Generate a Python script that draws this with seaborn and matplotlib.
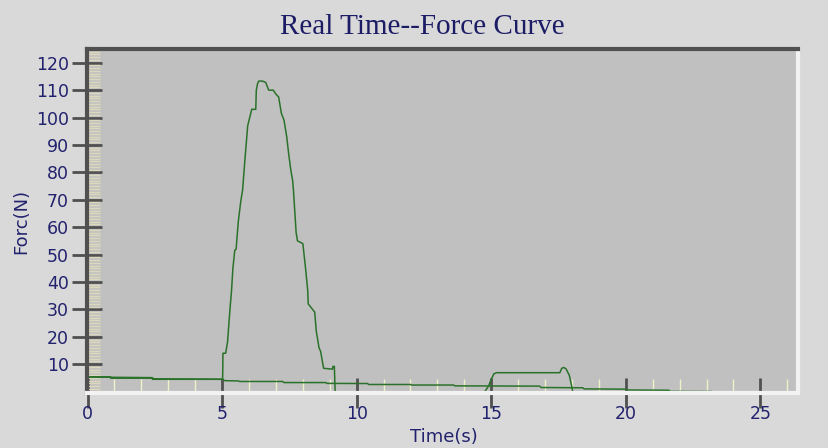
import matplotlib
matplotlib.use("Agg")
import matplotlib.pyplot as plt
from matplotlib.ticker import MultipleLocator
import seaborn as sns
import pandas as pd

# ========================
# DATA
# ========================

# trace 1: baseline, then the big force peak, drop to zero
peak_time = [0, 0.85, 0.86, 2.4, 2.41, 5.0, 5.02, 5.03, 5.13, 5.2, 5.28, 5.35, 5.4, 5.47,
             5.52, 5.6, 5.7, 5.76, 5.85, 5.95, 6.0, 6.1, 6.25, 6.27, 6.32, 6.36, 6.5, 6.62,
             6.73, 6.9, 7.0, 7.1, 7.2, 7.3, 7.4, 7.47, 7.55, 7.62, 7.65, 7.75, 7.8, 8.0,
             8.1, 8.18, 8.2, 8.44, 8.5, 8.6, 8.66, 8.77, 9.1, 9.12, 9.17, 9.2]
peak_force = [5.4, 5.4, 4.9, 4.9, 4.5, 4.5, 5.3, 14, 14, 18, 28.6, 37, 45, 51.6,
              52, 62, 70, 73.5, 85, 97, 99, 103, 103, 110, 112.5, 113.3, 113.3, 112.8,
              110, 110, 108.5, 107.5, 101.6, 99, 93, 87, 81, 77, 73.5, 58, 55, 54,
              45, 37, 32, 29, 22, 16, 14.7, 8.5, 8.2, 9.2, 9.2, 0]

# trace 2: small plateau around 15-18 s
bump_time = [14.76, 14.9, 15.0, 15.1, 15.2, 17.55, 17.62, 17.7, 17.78, 17.9, 17.98, 18.03]
bump_force = [0, 2, 4.5, 6.5, 6.9, 6.9, 8.5, 8.8, 8.3, 6.0, 2.5, 0]

# trace 3: slowly drifting baseline
drift_time = [0, 2.4, 2.45, 5.0, 5.1, 5.6, 5.65, 7.25, 7.3, 8.85, 8.9, 10.4, 10.45,
              12.0, 12.05, 13.6, 13.65, 16.8, 16.85, 18.4, 18.45, 20.0, 20.05, 21.6,
              21.65, 23.2]
drift_force = [5.3, 5.1, 4.7, 4.5, 4.0, 3.9, 3.7, 3.7, 3.3, 3.3, 3.0, 2.95, 2.6,
               2.6, 2.4, 2.4, 2.1, 2.0, 1.5, 1.4, 1.0, 0.9, 0.6, 0.5, 0.1, 0.05]

x_ticks = [0, 5, 10, 15, 20, 25]
y_ticks = [10, 20, 30, 40, 50, 60, 70, 80, 90, 100, 110, 120]

df = pd.concat([
    pd.DataFrame({"Time": peak_time, "Force": peak_force, "run": "peak"}),
    pd.DataFrame({"Time": bump_time, "Force": bump_force, "run": "bump"}),
    pd.DataFrame({"Time": drift_time, "Force": drift_force, "run": "drift"}),
], ignore_index=True)

# ========================
# PLOT
# ========================
sns.set_style("white")
plt.rcParams["font.family"] = ["DejaVu Sans"]

navy = "#22226e"
green = "#2a722a"

fig = plt.figure(figsize=(8.29, 4.48), dpi=100, facecolor="#d9d9d9")
ax = fig.add_axes([0.105, 0.1228, 0.8576, 0.7678])
ax.set_facecolor("#c0c0c0")

sns.lineplot(data=df, x="Time", y="Force", units="run", estimator=None, sort=False,
             color=green, linewidth=1.1, ax=ax, zorder=2)

ax.set_xlim(-0.02, 26.4)
ax.set_ylim(-0.5, 125)
ax.set_xticks(x_ticks)
ax.set_yticks(y_ticks)
ax.xaxis.set_minor_locator(MultipleLocator(1))
ax.yaxis.set_minor_locator(MultipleLocator(1))

ax.tick_params(which="both", bottom=True, left=True, top=False, right=False)
ax.tick_params(axis="both", which="major", direction="inout", length=22, width=2,
               color="#505050", labelsize=12.5, labelcolor=navy)
ax.tick_params(axis="y", which="major", pad=2)
ax.tick_params(axis="x", which="major", pad=-2)
ax.tick_params(axis="x", which="minor", direction="in", length=10, width=1, color="#eef2c8")
ax.tick_params(axis="y", which="minor", direction="in", length=9, width=1, color="#dcd8bc")

# 3D bevel look of the frame
for side in ["left", "top"]:
    ax.spines[side].set_color("#505050")
    ax.spines[side].set_linewidth(3)
for side in ["right", "bottom"]:
    ax.spines[side].set_color("#f2f2f2")
    ax.spines[side].set_linewidth(3)
for s in ax.spines.values():
    s.set_zorder(3)

ax.set_xlabel("Time(s)", fontsize=13, color=navy)
ax.set_ylabel("Forc(N)", fontsize=13, color=navy)
ax.xaxis.set_label_coords(0.502, -0.103)
ax.yaxis.set_label_coords(-0.08, 0.5)

fig.text(422 / 829, 1 - 27 / 448, "Real Time--Force Curve", ha="center", va="center",
         fontsize=21, color="#1c1c66", family=["Liberation Serif", "DejaVu Serif"])

plt.savefig("out.png", dpi=100, facecolor=fig.get_facecolor())
